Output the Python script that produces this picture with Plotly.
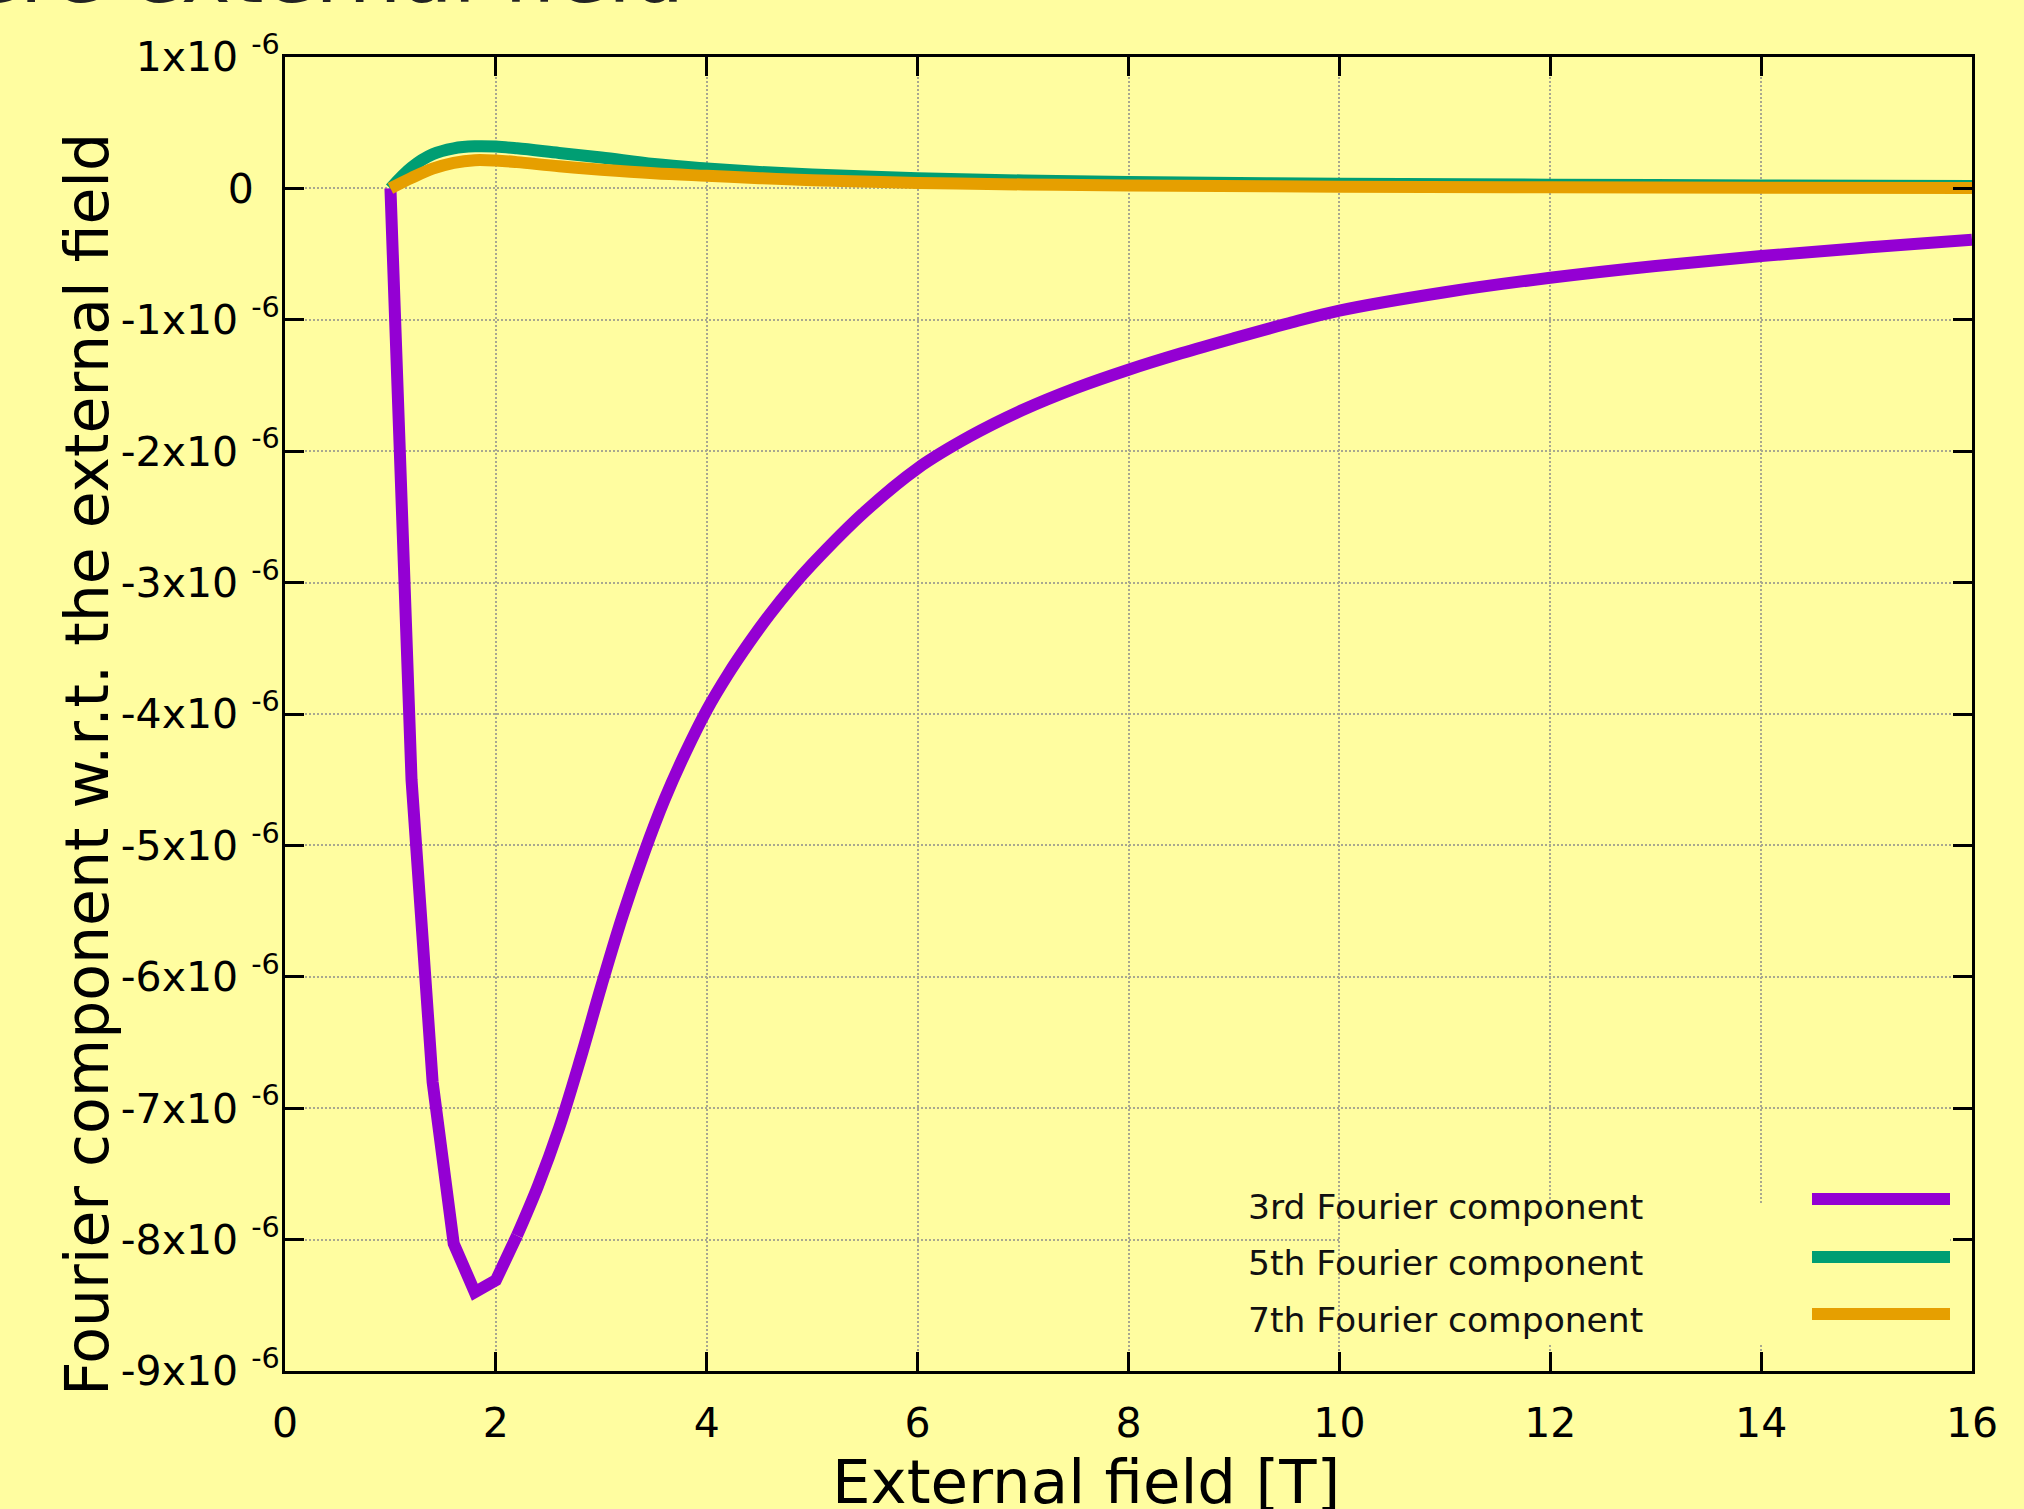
import plotly.graph_objects as go

# ---------------- data (values in units of 1e-6) ----------------
x3 = [1.0, 1.2, 1.4, 1.6, 1.8, 2.0, 2.2, 2.4, 2.6, 2.8, 3.0, 3.2, 3.4, 3.6, 3.8,
      4.0, 4.2, 4.4, 4.6, 4.8, 5.0, 5.5, 6.0, 6.5, 7.0, 7.5, 8.0, 8.5, 9.0, 9.5,
      10.0, 11.0, 12.0, 13.0, 14.0, 15.0, 16.0]
y3 = [0.0, -4.5, -6.8, -8.03, -8.40, -8.31, -7.97, -7.59, -7.15, -6.63, -6.07,
      -5.54, -5.07, -4.65, -4.29, -3.97, -3.70, -3.46, -3.24, -3.04, -2.86,
      -2.46, -2.13, -1.885, -1.685, -1.52, -1.38, -1.255, -1.14, -1.03, -0.93,
      -0.79, -0.68, -0.59, -0.515, -0.45, -0.39]

x5 = [1.0, 1.2, 1.4, 1.6, 1.8, 2.0, 2.2, 2.6, 3.0, 3.5, 4.0, 4.5, 5.0, 6.0,
      7.0, 8.0, 10.0, 12.0, 14.0, 16.0]
y5 = [0.0, 0.16, 0.26, 0.305, 0.32, 0.318, 0.305, 0.27, 0.235, 0.185, 0.152,
      0.125, 0.105, 0.078, 0.06, 0.048, 0.036, 0.028, 0.023, 0.019]

x7 = [1.0, 1.2, 1.4, 1.6, 1.8, 2.0, 2.2, 2.6, 3.0, 3.5, 4.0, 4.5, 5.0, 6.0,
      7.0, 8.0, 10.0, 12.0, 14.0, 16.0]
y7 = [0.0, 0.08, 0.15, 0.195, 0.215, 0.212, 0.2, 0.168, 0.142, 0.115, 0.096,
      0.078, 0.062, 0.042, 0.03, 0.022, 0.013, 0.008, 0.005, 0.003]

series_names = ["3rd Fourier component", "5th Fourier component", "7th Fourier component"]
series_colors = ["#9400D3", "#009E73", "#E69F00"]

x_ticks = [0, 2, 4, 6, 8, 10, 12, 14, 16]
y_tick_mantissa = [1, 0, -1, -2, -3, -4, -5, -6, -7, -8, -9]
y_tick_text = ["1x10 <sup>-6</sup>", "0&nbsp;&nbsp;", "-1x10 <sup>-6</sup>",
               "-2x10 <sup>-6</sup>", "-3x10 <sup>-6</sup>", "-4x10 <sup>-6</sup>",
               "-5x10 <sup>-6</sup>", "-6x10 <sup>-6</sup>", "-7x10 <sup>-6</sup>",
               "-8x10 <sup>-6</sup>", "-9x10 <sup>-6</sup>"]

x_title = "External field [T]"
y_title = "Fourier component w.r.t. the external field"
page_title = "ere external field"

# ---------------- layout geometry ----------------
W, H = 2024, 1509
PL, PR, PT, PB = 285, 1972, 57, 1371
BG = "#FFFDA0"
FONT = "DejaVu Sans"
LW = 12
SPLIT = 6  # index where the sharply sampled dip ends and the smooth tail begins


def px_x(px):
    return (px - PL) / (PR - PL)


def px_y(py):
    return (PB - py) / (PB - PT)


scale = 1e-6
fig = go.Figure()
# 3rd component: straight segments through the dip, smooth tail afterwards
fig.add_trace(go.Scatter(x=x3[:SPLIT + 1], y=[v * scale for v in y3[:SPLIT + 1]],
                         mode="lines", name=series_names[0],
                         line=dict(color=series_colors[0], width=LW, shape="linear"),
                         showlegend=False))
fig.add_trace(go.Scatter(x=x3[SPLIT:], y=[v * scale for v in y3[SPLIT:]],
                         mode="lines", name=series_names[0],
                         line=dict(color=series_colors[0], width=LW, shape="spline"),
                         showlegend=False))
for xs, ys, name, col in [(x5, y5, series_names[1], series_colors[1]),
                          (x7, y7, series_names[2], series_colors[2])]:
    fig.add_trace(go.Scatter(x=xs, y=[v * scale for v in ys], mode="lines", name=name,
                             line=dict(color=col, width=LW, shape="spline"),
                             showlegend=False))

axis_common = dict(showline=True, linecolor="black", linewidth=3, mirror="ticks",
                   ticks="inside", ticklen=19, tickwidth=2.5, tickcolor="black",
                   showgrid=True, gridcolor="#a8a890", gridwidth=1.5, griddash="2px,2px",
                   zeroline=False, tickfont=dict(family=FONT, size=41, color="black"))

fig.update_xaxes(range=[0, 16], tickvals=x_ticks, ticktext=[str(v) for v in x_ticks],
                 ticklabelstandoff=14, **axis_common)
fig.update_yaxes(range=[-9e-6, 1e-6], tickvals=[v * scale for v in y_tick_mantissa],
                 ticktext=y_tick_text, ticklabelstandoff=-6, **axis_common)

annotations = [
    dict(text=x_title, x=px_x(1086), y=px_y(1481), xref="paper", yref="paper",
         xanchor="center", yanchor="middle", showarrow=False,
         font=dict(family=FONT, size=61, color="black")),
    dict(text=y_title, x=px_x(87), y=px_y(765), xref="paper", yref="paper",
         xanchor="center", yanchor="middle", showarrow=False, textangle=-90,
         font=dict(family=FONT, size=60, color="black")),
    dict(text=page_title, x=px_x(-34), y=px_y(24), xref="paper", yref="paper",
         xanchor="left", yanchor="bottom", showarrow=False,
         font=dict(family=FONT, size=84, color="#222222")),
]

shapes = [dict(type="rect", xref="paper", yref="paper", x0=px_x(1340), x1=px_x(1950),
               y0=px_y(1345), y1=px_y(1203), fillcolor=BG, line=dict(width=0),
               layer="above")]

legend_text_y = [1207, 1263, 1320]
legend_line_y = [1199, 1257, 1314]
for name, col, ty, ly in zip(series_names, series_colors, legend_text_y, legend_line_y):
    annotations.append(dict(text=name, x=px_x(1246), y=px_y(ty), xref="paper", yref="paper",
                            xanchor="left", yanchor="middle", showarrow=False,
                            font=dict(family=FONT, size=34.5, color="#111111")))
    shapes.append(dict(type="line", xref="paper", yref="paper", x0=px_x(1812), x1=px_x(1950),
                       y0=px_y(ly), y1=px_y(ly), line=dict(color=col, width=LW),
                       layer="above"))

fig.update_layout(width=W, height=H, paper_bgcolor=BG, plot_bgcolor=BG,
                  margin=dict(l=PL, r=W - PR, t=PT, b=H - PB, pad=0),
                  font=dict(family=FONT, color="black"),
                  annotations=annotations, shapes=shapes, showlegend=False)

fig.write_html("out.html", config={"displayModeBar": False},
               post_script="document.body.style.margin='0px';document.body.style.overflow='hidden';")
